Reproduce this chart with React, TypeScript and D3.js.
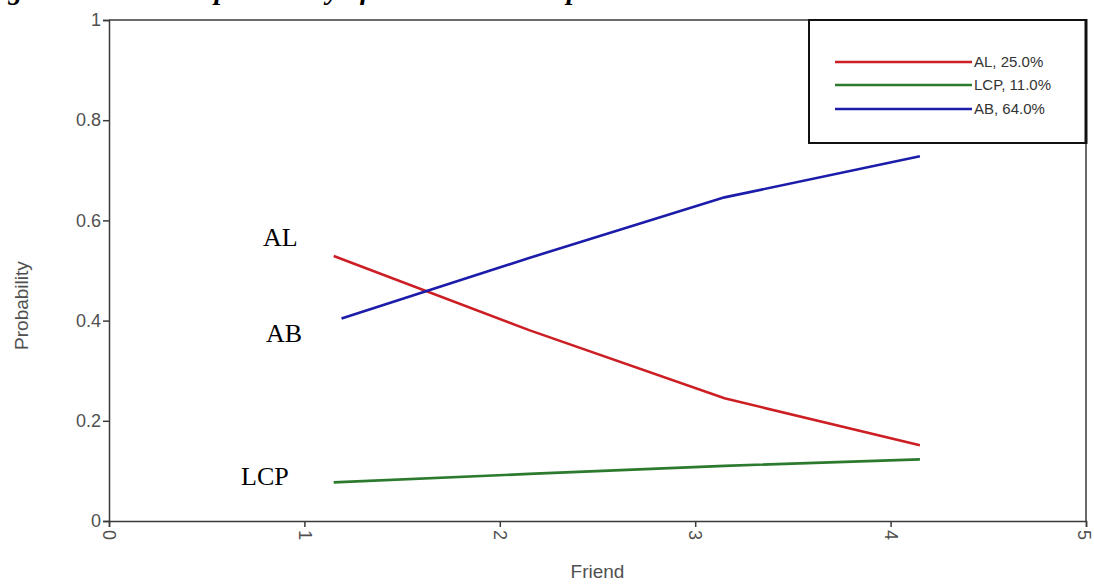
import React, { useEffect, useRef } from "react";
import * as d3 from "d3";

const W = 1094;
const H = 585;

const titleText = "Figure 2: Predicted probability of class membership";
const xTicks = [0, 1, 2, 3, 4, 5];
const yTicks = [0, 0.2, 0.4, 0.6, 0.8, 1];
const yTickLabels = ["0", "0.2", "0.4", "0.6", "0.8", "1"];

const friendAL = [1.15, 2.15, 3.15, 4.15];
const probAL = [0.529, 0.381, 0.245, 0.151];
const friendLCP = [1.15, 2.15, 3.15, 4.15];
const probLCP = [0.077, 0.094, 0.11, 0.123];
const friendAB = [1.19, 2.15, 3.15, 4.15];
const probAB = [0.404, 0.525, 0.646, 0.728];

const seriesNames = ["AL", "LCP", "AB"];
const seriesLegend = ["AL, 25.0%", "LCP, 11.0%", "AB, 64.0%"];
const seriesColors = ["#cc1f24", "#2b7a2e", "#1c1caa"];

export default function App() {
  const ref = useRef<SVGSVGElement>(null);

  useEffect(() => {
    const svg = d3.select(ref.current);
    svg.selectAll("*").remove();

    const x = d3.scaleLinear().domain([0, 5]).range([109, 1086]);
    const y = d3.scaleLinear().domain([0, 1]).range([521, 20]);

    svg.append("rect").attr("width", W).attr("height", H).attr("fill", "#fff");

    // cropped title (only descenders visible, as in the reference)
    svg
      .append("text")
      .attr("x", -18)
      .attr("y", -1)
      .attr("font-family", "Liberation Serif, Times New Roman, serif")
      .attr("font-weight", "bold")
      .attr("font-style", "italic")
      .attr("font-size", 28)
      .attr("fill", "#000")
      .text(titleText);

    const axisColor = "#3a3a3a";
    const labelColor = "#505050";
    const font = "Liberation Sans, Arial, sans-serif";

    // frame top / right
    svg.append("line").attr("x1", x(0)).attr("x2", x(5)).attr("y1", y(1)).attr("y2", y(1))
      .attr("stroke", axisColor).attr("stroke-width", 1.5);
    svg.append("line").attr("x1", x(5)).attr("x2", x(5)).attr("y1", y(1)).attr("y2", y(0))
      .attr("stroke", axisColor).attr("stroke-width", 1.5);

    // y axis
    const yAxis = d3.axisLeft(y).tickValues(yTicks).tickSize(6).tickFormat((d, i) => yTickLabels[i]);
    const gy = svg.append("g").attr("transform", `translate(${x(0)},0)`).call(yAxis);
    gy.select(".domain").attr("stroke", axisColor).attr("stroke-width", 1.5);
    gy.selectAll(".tick line").attr("stroke", axisColor).attr("stroke-width", 1.5);
    gy.selectAll(".tick text").attr("font-family", font).attr("font-size", 18).attr("fill", labelColor).attr("x", -8);

    // x axis
    const xAxis = d3.axisBottom(x).tickValues(xTicks).tickSize(6).tickFormat(d3.format("d"));
    const gx = svg.append("g").attr("transform", `translate(0,${y(0)})`).call(xAxis);
    gx.select(".domain").attr("stroke", axisColor).attr("stroke-width", 1.5);
    gx.selectAll(".tick line").attr("stroke", axisColor).attr("stroke-width", 1.5);
    gx.selectAll(".tick text")
      .attr("font-family", font)
      .attr("font-size", 18)
      .attr("fill", labelColor)
      .attr("y", 0)
      .attr("x", 0)
      .attr("dy", "0.35em")
      .attr("text-anchor", "start")
      .attr("transform", (d) => (d === 5 ? "translate(-2,9) rotate(90)" : "translate(0,9) rotate(90)"));

    // axis titles
    svg.append("text").attr("x", (x(0) + x(5)) / 2).attr("y", 578).attr("text-anchor", "middle")
      .attr("font-family", font).attr("font-size", 19).attr("fill", labelColor).text("Friend");
    svg.append("text").attr("transform", `translate(28,${y(0.43)}) rotate(-90)`).attr("text-anchor", "middle")
      .attr("font-family", font).attr("font-size", 19).attr("fill", labelColor).text("Probability");

    // series lines
    const seriesX = [friendAL, friendLCP, friendAB];
    const seriesY = [probAL, probLCP, probAB];
    const line = d3.line<[number, number]>().x((d) => x(d[0])).y((d) => y(d[1]));
    seriesNames.forEach((name, i) => {
      const pts = seriesX[i].map((v, j) => [v, seriesY[i][j]] as [number, number]);
      svg.append("path").attr("d", line(pts)).attr("fill", "none")
        .attr("stroke", seriesColors[i]).attr("stroke-width", 2.6);
    });

    // in-plot labels
    const lab = svg.append("g").attr("font-family", "Liberation Serif, Times New Roman, serif")
      .attr("font-size", 26).attr("fill", "#000");
    lab.append("text").attr("x", 263).attr("y", 246).text("AL");
    lab.append("text").attr("x", 266).attr("y", 342).text("AB");
    lab.append("text").attr("x", 241).attr("y", 485).text("LCP");

    // legend
    const lg = svg.append("g");
    lg.append("rect").attr("x", 809).attr("y", 20).attr("width", 1086 - 809).attr("height", 123)
      .attr("fill", "#fff").attr("stroke", "#111").attr("stroke-width", 2);
    lg.append("line").attr("x1", 1086).attr("x2", 1086).attr("y1", 19).attr("y2", 144)
      .attr("stroke", "#111").attr("stroke-width", 3);
    const legY = [62, 85, 109];
    seriesLegend.forEach((t, i) => {
      lg.append("line").attr("x1", 835).attr("x2", 972).attr("y1", legY[i]).attr("y2", legY[i])
        .attr("stroke", seriesColors[i]).attr("stroke-width", 2.4);
      lg.append("text").attr("x", 974).attr("y", legY[i]).attr("dy", "0.35em")
        .attr("font-family", font).attr("font-size", 15).attr("fill", "#333").text(t);
    });
  }, []);

  return (
    <svg
      ref={ref}
      width={W}
      height={H}
      style={{ position: "absolute", left: 0, top: 0, display: "block" }}
    />
  );
}
